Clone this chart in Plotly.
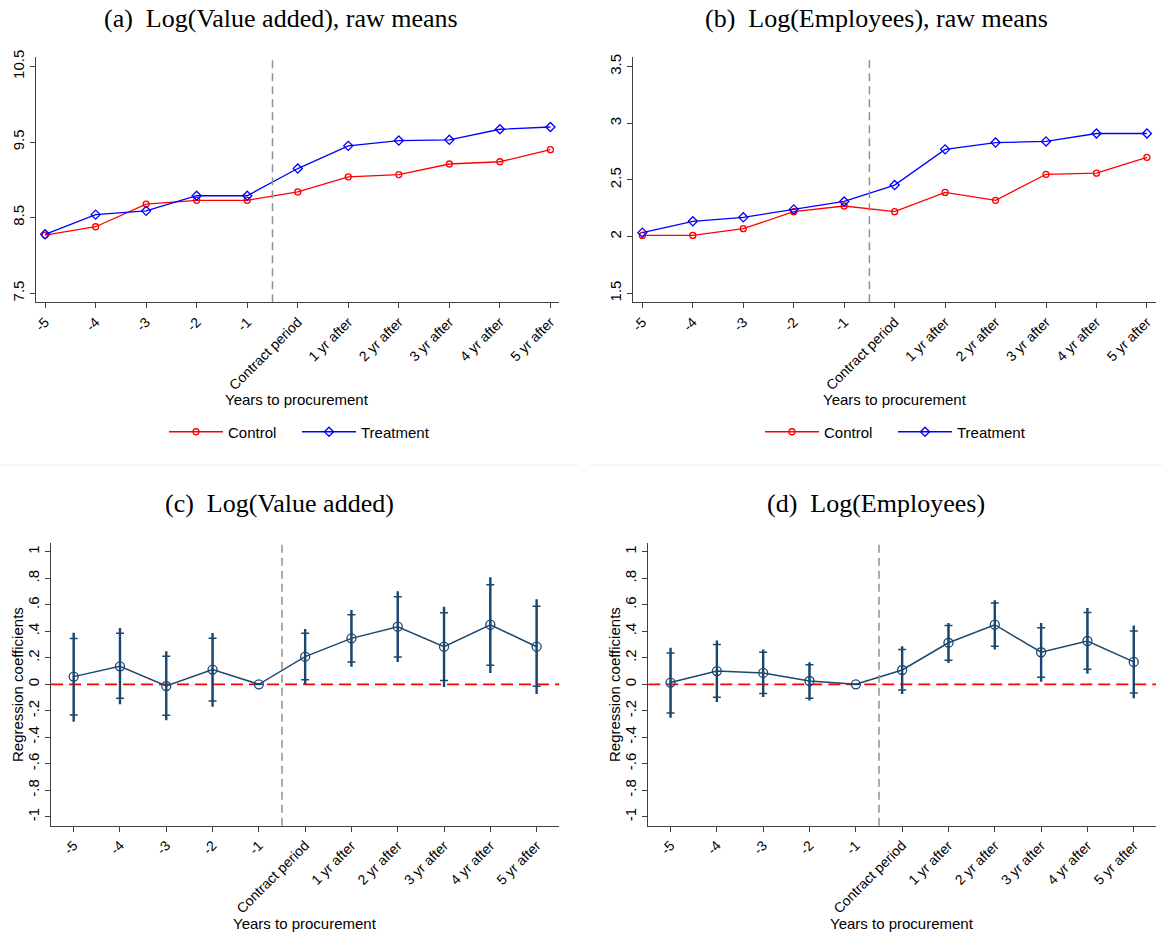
import plotly.graph_objects as go

W, H = 1162, 935

periods = ["-5", "-4", "-3", "-2", "-1", "Contract period", "1 yr after",
           "2 yr after", "3 yr after", "4 yr after", "5 yr after"]
xi = list(range(len(periods)))

# (a) Log(Value added), raw means
va_control = [8.27, 8.38, 8.68, 8.73, 8.73, 8.84, 9.04, 9.07, 9.21, 9.24, 9.40]
va_treatment = [8.28, 8.54, 8.59, 8.79, 8.79, 9.15, 9.45, 9.52, 9.53, 9.67, 9.70]

# (b) Log(Employees), raw means
emp_control = [2.01, 2.01, 2.07, 2.22, 2.27, 2.22, 2.39, 2.32, 2.55, 2.56, 2.70]
emp_treatment = [2.035, 2.135, 2.17, 2.24, 2.31, 2.455, 2.77, 2.83, 2.84, 2.91, 2.91]

# (c) Log(Value added) regression coefficients
va_coef = [0.058, 0.136, -0.013, 0.111, 0.0, 0.209, 0.347, 0.435, 0.284, 0.450, 0.284]
va_hi95 = [0.39, 0.425, 0.249, 0.387, 0.0, 0.418, 0.561, 0.702, 0.586, 0.808, 0.642]
va_lo95 = [-0.282, -0.151, -0.272, -0.169, 0.0, 0.0, 0.133, 0.169, -0.02, 0.086, -0.073]
va_hi90 = [0.345, 0.385, 0.211, 0.347, 0.0, 0.385, 0.526, 0.662, 0.541, 0.752, 0.589]
va_lo90 = [-0.231, -0.106, -0.234, -0.126, 0.0, 0.035, 0.169, 0.206, 0.028, 0.143, -0.015]

# (d) Log(Employees) regression coefficients
emp_coef = [0.013, 0.10, 0.086, 0.025, 0.0, 0.108, 0.314, 0.450, 0.242, 0.327, 0.169]
emp_hi95 = [0.277, 0.33, 0.262, 0.166, 0.0, 0.287, 0.463, 0.634, 0.463, 0.576, 0.445]
emp_lo95 = [-0.252, -0.133, -0.096, -0.123, 0.0, -0.073, 0.161, 0.262, 0.02, 0.08, -0.106]
emp_hi90 = [0.236, 0.30, 0.242, 0.148, 0.0, 0.262, 0.445, 0.614, 0.428, 0.543, 0.403]
emp_lo90 = [-0.216, -0.098, -0.07, -0.106, 0.0, -0.043, 0.181, 0.287, 0.053, 0.113, -0.065]

ytick_a = [7.5, 8.5, 9.5, 10.5]
ytick_b = [1.5, 2, 2.5, 3, 3.5]
ytick_b_text = ["1.5", "2", "2.5", "3", "3.5"]
ytick_c = [-1, -0.8, -0.6, -0.4, -0.2, 0, 0.2, 0.4, 0.6, 0.8, 1]
ytick_c_text = ["-1", "-.8", "-.6", "-.4", "-.2", "0", ".2", ".4", ".6", ".8", "1"]

treat_start = 4.5  # boundary between "-1" and "Contract period"

RED = "#ff0000"
BLUE = "#0000ff"
NAVY = "#1a476f"
SANS = "Liberation Sans, Arial, sans-serif"
SERIF = "Liberation Serif, Times New Roman, serif"


def px_x(p):
    return p / W


def px_y(p):
    return 1 - p / H


fig = go.Figure()

# panel (a)
fig.add_trace(go.Scatter(x=xi, y=va_control, mode="lines+markers", name="Control",
                         line=dict(color=RED, width=1.3),
                         marker=dict(symbol="circle-open", size=6, color=RED, line=dict(width=1.3)),
                         xaxis="x", yaxis="y", legend="legend"))
fig.add_trace(go.Scatter(x=xi, y=va_treatment, mode="lines+markers", name="Treatment",
                         line=dict(color=BLUE, width=1.3),
                         marker=dict(symbol="diamond-open", size=7, color=BLUE, line=dict(width=1.3)),
                         xaxis="x", yaxis="y", legend="legend"))
# panel (b)
fig.add_trace(go.Scatter(x=xi, y=emp_control, mode="lines+markers", name="Control",
                         line=dict(color=RED, width=1.3),
                         marker=dict(symbol="circle-open", size=6, color=RED, line=dict(width=1.3)),
                         xaxis="x2", yaxis="y2", legend="legend2"))
fig.add_trace(go.Scatter(x=xi, y=emp_treatment, mode="lines+markers", name="Treatment",
                         line=dict(color=BLUE, width=1.3),
                         marker=dict(symbol="diamond-open", size=7, color=BLUE, line=dict(width=1.3)),
                         xaxis="x2", yaxis="y2", legend="legend2"))


def coef_traces(coef, hi95, lo95, hi90, lo90, xa, ya):
    up95 = [h - c for h, c in zip(hi95, coef)]
    dn95 = [c - l for c, l in zip(coef, lo95)]
    up90 = [h - c for h, c in zip(hi90, coef)]
    dn90 = [c - l for c, l in zip(coef, lo90)]
    fig.add_trace(go.Scatter(x=xi, y=coef, mode="markers", showlegend=False,
                             marker=dict(size=1, color="rgba(0,0,0,0)"),
                             error_y=dict(type="data", symmetric=False, array=up95, arrayminus=dn95,
                                          color=NAVY, thickness=2.4, width=0),
                             xaxis=xa, yaxis=ya))
    fig.add_trace(go.Scatter(x=xi, y=coef, mode="markers", showlegend=False,
                             marker=dict(size=1, color="rgba(0,0,0,0)"),
                             error_y=dict(type="data", symmetric=False, array=up90, arrayminus=dn90,
                                          color=NAVY, thickness=1.5, width=4),
                             xaxis=xa, yaxis=ya))
    fig.add_trace(go.Scatter(x=xi, y=coef, mode="lines+markers", showlegend=False,
                             line=dict(color=NAVY, width=1.5),
                             marker=dict(symbol="circle-open", size=9, color=NAVY, line=dict(width=1.3)),
                             xaxis=xa, yaxis=ya))


coef_traces(va_coef, va_hi95, va_lo95, va_hi90, va_lo90, "x3", "y3")
coef_traces(emp_coef, emp_hi95, emp_lo95, emp_hi90, emp_lo90, "x4", "y4")

axis_common = dict(showgrid=False, zeroline=False, showline=True, linecolor="#404040",
                   linewidth=1.3, ticks="outside", ticklen=5, tickcolor="#404040",
                   automargin=False)

xdef = dict(tickvals=xi, ticktext=periods, tickangle=-45,
            tickfont=dict(family=SANS, size=14, color="#000000"), **axis_common)
yfont = dict(family=SANS, size=15, color="#000000")

legend_common = dict(orientation="h", yanchor="middle",
                     font=dict(family=SANS, size=15, color="#000000"),
                     itemwidth=54, entrywidth=64, entrywidthmode="pixels",
                     bgcolor="rgba(0,0,0,0)")

fig.update_layout(
    width=W, height=H, margin=dict(l=0, r=0, t=0, b=0, pad=0, autoexpand=False),
    paper_bgcolor="white", plot_bgcolor="white",
    xaxis=dict(domain=[px_x(36), px_x(559)], range=[-0.18, 10.17], anchor="y", **xdef),
    yaxis=dict(domain=[px_y(302.3), px_y(56.7)], range=[7.38, 10.63], anchor="x",
               tickvals=ytick_a, ticktext=[str(v) for v in ytick_a], tickangle=-90,
               tickfont=yfont, **axis_common),
    xaxis2=dict(domain=[px_x(633.3), px_x(1156)], range=[-0.18, 10.18], anchor="y2", **xdef),
    yaxis2=dict(domain=[px_y(302.3), px_y(56.7)], range=[1.42, 3.588], anchor="x2",
                tickvals=ytick_b, ticktext=ytick_b_text, tickangle=-90,
                tickfont=yfont, **axis_common),
    xaxis3=dict(domain=[px_x(51), px_x(559.3)], range=[-0.49, 10.49], anchor="y3", **xdef),
    yaxis3=dict(domain=[px_y(825.7), px_y(543.3)], range=[-1.068, 1.065], anchor="x3",
                tickvals=ytick_c, ticktext=ytick_c_text, tickangle=-90,
                tickfont=yfont, **axis_common),
    xaxis4=dict(domain=[px_x(648.3), px_x(1156)], range=[-0.48, 10.48], anchor="y4", **xdef),
    yaxis4=dict(domain=[px_y(825.7), px_y(543.3)], range=[-1.068, 1.065], anchor="x4",
                tickvals=ytick_c, ticktext=ytick_c_text, tickangle=-90,
                tickfont=yfont, **axis_common),
    legend=dict(x=px_x(297), xanchor="center", y=px_y(432), **legend_common),
    legend2=dict(x=px_x(893), xanchor="center", y=px_y(432), **legend_common),
    showlegend=True,
)

shapes = []
for xa, ya in [("x", "y"), ("x2", "y2"), ("x3", "y3"), ("x4", "y4")]:
    shapes.append(dict(type="line", xref=xa, yref=ya + " domain", x0=treat_start, x1=treat_start,
                       y0=0, y1=1, line=dict(color="#909090", width=1.5, dash="8px,5px")))
for xa, ya in [("x3", "y3"), ("x4", "y4")]:
    shapes.append(dict(type="line", xref=xa + " domain", yref=ya, x0=0, x1=1, y0=0, y1=0,
                       line=dict(color=RED, width=1.8, dash="12px,6px"), layer="below"))
# faint separator between the top and bottom graphs
shapes.append(dict(type="line", xref="paper", yref="paper", x0=0, x1=px_x(578),
                   y0=px_y(465), y1=px_y(465), line=dict(color="#ececec", width=1)))
shapes.append(dict(type="line", xref="paper", yref="paper", x0=px_x(590), x1=1,
                   y0=px_y(465), y1=px_y(465), line=dict(color="#ececec", width=1)))
fig.update_layout(shapes=shapes)

ann = []
titles = [
    ("(a)\u00a0 Log(Value added), raw means", 281, 18),
    ("(b)\u00a0 Log(Employees), raw means", 876.5, 18),
    ("(c)\u00a0 Log(Value added)", 279, 503),
    ("(d)\u00a0 Log(Employees)", 876, 503),
]
for t, x, y in titles:
    ann.append(dict(text=t, x=px_x(x), y=px_y(y), xref="paper", yref="paper",
                    xanchor="center", yanchor="middle", showarrow=False,
                    font=dict(family=SERIF, size=26, color="#000000")))
for x, y in [(297, 400), (895, 400), (305, 923), (902, 923)]:
    ann.append(dict(text="Years to procurement", x=px_x(x), y=px_y(y), xref="paper", yref="paper",
                    xanchor="center", yanchor="middle", showarrow=False,
                    font=dict(family=SANS, size=15, color="#000000")))
for x, y in [(17, 685), (614, 685)]:
    ann.append(dict(text="Regression coefficients", x=px_x(x), y=px_y(y), xref="paper", yref="paper",
                    xanchor="center", yanchor="middle", showarrow=False, textangle=-90,
                    font=dict(family=SANS, size=15, color="#000000")))
fig.update_layout(annotations=ann)

fig.write_html("out.html")
